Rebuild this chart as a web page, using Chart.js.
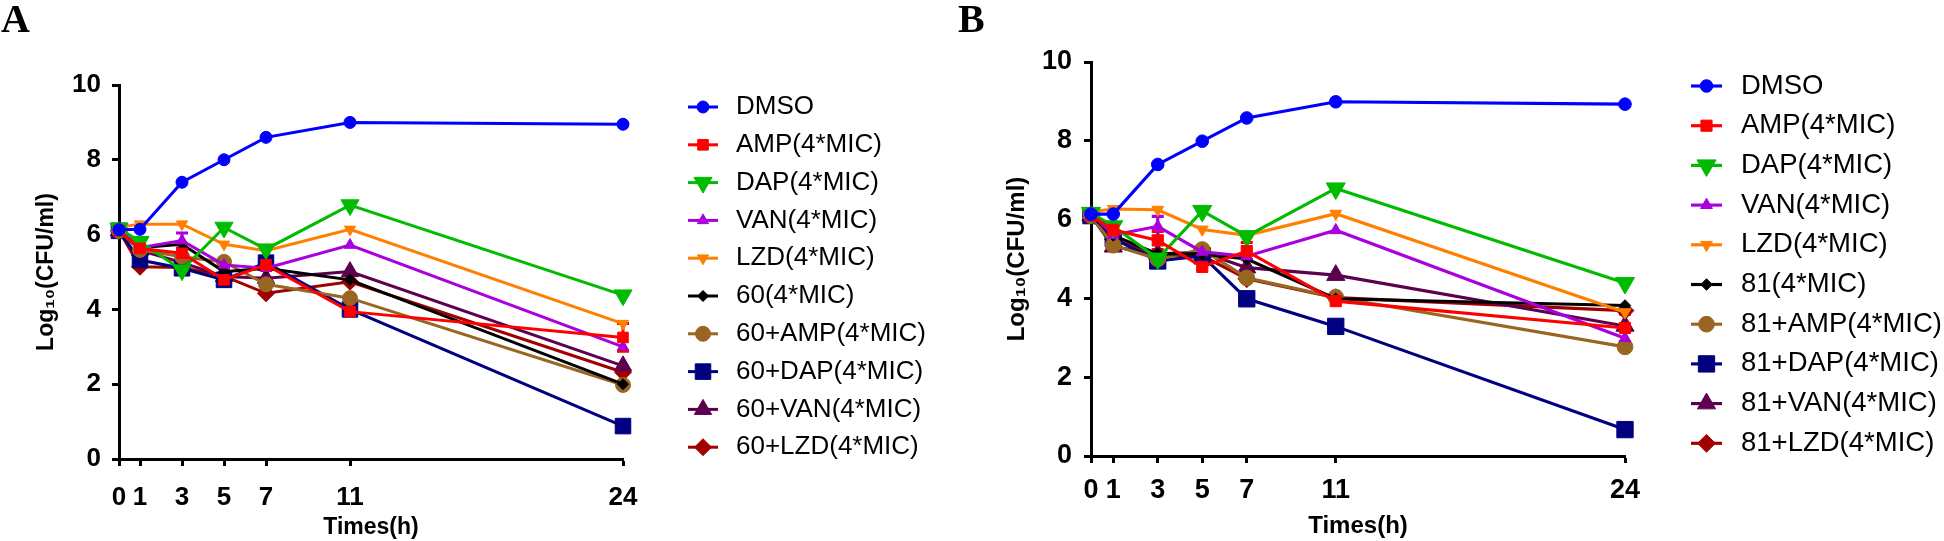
<!DOCTYPE html>
<html>
<head>
<meta charset="utf-8">
<script src="https://cdn.jsdelivr.net/npm/chart.js@4.4.1/dist/chart.umd.min.js"></script>
<style>
  body { margin: 0; background: #fff; width: 1944px; height: 541px; overflow: hidden; position: relative; }
  .panel { position: absolute; top: 0; height: 541px; }
  #wrapA { left: 0; width: 980px; }
  #wrapB { left: 980px; width: 964px; }
  .letter { position: absolute; font-family: "Liberation Serif", "Times New Roman", serif; font-weight: bold; font-size: 40px; line-height: 1; color: #000; }
</style>
</head>
<body>
<div class="panel" id="wrapA"><canvas id="chartA" width="980" height="541"></canvas></div>
<div class="panel" id="wrapB"><canvas id="chartB" width="964" height="541"></canvas></div>
<div class="letter" style="left:1px;top:-1px">A</div>
<div class="letter" style="left:958px;top:-1px">B</div>
<script>
const times = [0, 1, 3, 5, 7, 11, 24];
const timeTicks = [0, 1, 3, 5, 7, 11, 24];
const yTicks = [0, 2, 4, 6, 8, 10];

const labelsA = ['DMSO', 'AMP(4*MIC)', 'DAP(4*MIC)', 'VAN(4*MIC)', 'LZD(4*MIC)',
  '60(4*MIC)', '60+AMP(4*MIC)', '60+DAP(4*MIC)', '60+VAN(4*MIC)', '60+LZD(4*MIC)'];
const labelsB = ['DMSO', 'AMP(4*MIC)', 'DAP(4*MIC)', 'VAN(4*MIC)', 'LZD(4*MIC)',
  '81(4*MIC)', '81+AMP(4*MIC)', '81+DAP(4*MIC)', '81+VAN(4*MIC)', '81+LZD(4*MIC)'];

// panel A, log10 CFU/ml
const dmsoA   = [6.13, 6.14, 7.40, 8.00, 8.60, 9.00, 8.95];
const ampA    = [6.10, 5.63, 5.50, 4.79, 5.19, 3.94, 3.25];
const dapA    = [6.17, 5.81, 5.05, 6.19, 5.61, 6.79, 4.38];
const vanA    = [6.15, 5.65, 5.84, 5.19, 5.10, 5.72, 3.00];
const lzdA    = [6.20, 6.28, 6.28, 5.74, 5.57, 6.14, 3.62];
const c60A    = [6.10, 5.65, 5.74, 5.01, 5.10, 4.79, 2.00];
const c60AmpA = [6.10, 5.59, 5.41, 5.27, 4.67, 4.30, 1.98];
const c60DapA = [6.10, 5.32, 5.10, 4.79, 5.25, 4.00, 0.88];
const c60VanA = [6.10, 5.58, 5.25, 4.88, 4.83, 5.01, 2.49];
const c60LzdA = [6.10, 5.14, 5.12, 4.89, 4.43, 4.74, 2.32];
const ampErrA = [0, 0.15, 0.25, 0, 0.12, 0, 0.37];
const vanErrA = [0, 0, 0.20, 0.10, 0, 0, 0];

// panel B
const dmsoB   = [6.14, 6.14, 7.40, 7.99, 8.58, 8.99, 8.93];
const ampB    = [6.10, 5.74, 5.47, 4.80, 5.20, 3.93, 3.25];
const dapB    = [6.17, 5.83, 5.01, 6.22, 5.58, 6.79, 4.39];
const vanB    = [6.15, 5.61, 5.83, 5.18, 5.07, 5.73, 2.99];
const lzdB    = [6.20, 6.27, 6.25, 5.75, 5.60, 6.15, 3.65];
const c81B    = [6.10, 5.60, 5.13, 5.13, 5.00, 3.99, 3.82];
const c81AmpB = [6.10, 5.35, 5.00, 5.24, 4.52, 4.03, 2.77];
const c81DapB = [6.10, 5.52, 4.95, 5.08, 3.99, 3.29, 0.67];
const c81VanB = [6.10, 5.31, 5.13, 5.17, 4.78, 4.59, 3.30];
const c81LzdB = [6.10, 5.50, 5.08, 5.08, 4.50, 4.02, 3.69];
const ampErrB = [0, 0.15, 0.23, 0, 0.22, 0, 0.35];
const vanErrB = [0, 0, 0.25, 0, 0, 0, 0];

const seriesStyles = [
  { color: '#0000ff', style: 'circle', rot: 0, r: 6 },
  { color: '#ff0000', style: 'rect', rot: 0, r: 7.5 },
  { color: '#00bb00', style: 'triangle', rot: 180, r: 10.5 },
  { color: '#aa00dd', style: 'triangle', rot: 0, r: 6.5 },
  { color: '#ff8000', style: 'triangle', rot: 180, r: 6.5 },
  { color: '#000000', style: 'rectRot', rot: 0, r: 5.5 },
  { color: '#996622', style: 'circle', rot: 0, r: 7.5 },
  { color: '#000080', style: 'rect', rot: 0, r: 11 },
  { color: '#5c004f', style: 'triangle', rot: 0, r: 10 },
  { color: '#a00000', style: 'rectRot', rot: 0, r: 8.5 }
];

function buildDatasets(labels, values, errors, k) {
  return values.map((vals, i) => {
    const s = seriesStyles[i];
    return {
      label: labels[i],
      data: times.map((t, j) => ({ x: t, y: vals[j] })),
      errors: errors[i] || null,
      borderColor: s.color,
      backgroundColor: s.color,
      pointBackgroundColor: s.color,
      pointBorderColor: s.color,
      pointStyle: s.style,
      pointRotation: s.rot,
      pointRadius: s.r * k,
      pointBorderWidth: 1,
      borderWidth: 3 * k,
      tension: 0,
      clip: false
    };
  });
}

const sideLegend = {
  id: 'sideLegend',
  afterDraw(chart, args, opts) {
    const ctx = chart.ctx;
    ctx.save();
    chart.data.datasets.forEach((ds, i) => {
      const y = opts.top + i * opts.step;
      ctx.strokeStyle = ds.borderColor;
      ctx.lineWidth = ds.borderWidth;
      ctx.beginPath();
      ctx.moveTo(opts.x1, y);
      ctx.lineTo(opts.x2, y);
      ctx.stroke();
      ctx.fillStyle = ds.pointBackgroundColor;
      ctx.lineWidth = 1;
      Chart.helpers.drawPoint(ctx, {
        pointStyle: ds.pointStyle, rotation: ds.pointRotation,
        radius: ds.pointRadius, borderWidth: 1
      }, (opts.x1 + opts.x2) / 2, y);
      ctx.fillStyle = '#000';
      ctx.font = opts.fontSize + 'px "Liberation Sans", Arial, sans-serif';
      ctx.textBaseline = 'middle';
      ctx.textAlign = 'left';
      ctx.fillText(ds.label, opts.tx, y);
    });
    ctx.restore();
  }
};

const errorBars = {
  id: 'errorBars',
  beforeDatasetsDraw(chart) {
    const ctx = chart.ctx;
    const yScale = chart.scales.y;
    chart.data.datasets.forEach((ds, i) => {
      if (!ds.errors) return;
      const meta = chart.getDatasetMeta(i);
      ctx.save();
      ctx.strokeStyle = ds.borderColor;
      ctx.lineWidth = ds.borderWidth;
      meta.data.forEach((pt, j) => {
        const e = ds.errors[j];
        if (!e) return;
        const v = ds.data[j].y;
        const top = yScale.getPixelForValue(v + e);
        const bot = yScale.getPixelForValue(v - e);
        ctx.beginPath();
        ctx.moveTo(pt.x, top); ctx.lineTo(pt.x, bot);
        ctx.moveTo(pt.x - 6, top); ctx.lineTo(pt.x + 6, top);
        ctx.moveTo(pt.x - 6, bot); ctx.lineTo(pt.x + 6, bot);
        ctx.stroke();
      });
      ctx.restore();
    });
  }
};

const fontFamily = '"Liberation Sans", Arial, sans-serif';

function makeOptions(cfg) {
  const tickFont = { family: fontFamily, size: cfg.tickSize, weight: 'bold' };
  const titleFont = { family: fontFamily, size: cfg.titleSize, weight: 'bold' };
  return {
    responsive: false,
    animation: false,
    events: [],
    layout: { padding: { left: 0, top: cfg.top, right: cfg.right, bottom: 0 } },
    plugins: {
      legend: { display: false },
      tooltip: { enabled: false },
      sideLegend: cfg.legend
    },
    scales: {
      x: {
        type: 'linear', min: 0, max: 24,
        afterBuildTicks: s => { s.ticks = timeTicks.map(v => ({ value: v })); },
        afterFit: s => { s.height = cfg.xH; },
        grid: { drawOnChartArea: false, drawTicks: true, tickLength: 7, tickWidth: 3, tickColor: '#000' },
        border: { color: '#000', width: 3 },
        ticks: { color: '#000', font: tickFont, padding: cfg.xPad, autoSkip: false, maxRotation: 0 },
        title: { display: true, text: 'Times(h)', color: '#000', font: titleFont, padding: { top: 0, bottom: 0 } }
      },
      y: {
        type: 'linear', min: 0, max: 10,
        afterBuildTicks: s => { s.ticks = yTicks.map(v => ({ value: v })); },
        afterFit: s => { s.width = cfg.yW; },
        grid: { drawOnChartArea: false, drawTicks: true, tickLength: 7, tickWidth: 3, tickColor: '#000' },
        border: { color: '#000', width: 3 },
        ticks: { color: '#000', font: tickFont, padding: cfg.yPad },
        title: { display: true, text: 'Log₁₀(CFU/ml)', color: '#000', font: titleFont, padding: { top: cfg.yTitlePad, bottom: 0 } }
      }
    }
  };
}

new Chart(document.getElementById('chartA'), {
  type: 'line',
  data: {
    datasets: buildDatasets(labelsA,
      [dmsoA, ampA, dapA, vanA, lzdA, c60A, c60AmpA, c60DapA, c60VanA, c60LzdA],
      [null, ampErrA, null, vanErrA], 1)
  },
  options: makeOptions({
    top: 85, right: 357, xH: 82, yW: 119, xPad: 16, yPad: 11, yTitlePad: 33,
    tickSize: 26, titleSize: 23,
    legend: { top: 107, step: 37.8, x1: 688, x2: 718, tx: 736, fontSize: 26 }
  }),
  plugins: [errorBars, sideLegend]
});

new Chart(document.getElementById('chartB'), {
  type: 'line',
  data: {
    datasets: buildDatasets(labelsB,
      [dmsoB, ampB, dapB, vanB, lzdB, c81B, c81AmpB, c81DapB, c81VanB, c81LzdB],
      [null, ampErrB, null, vanErrB], 1.05)
  },
  options: makeOptions({
    top: 62, right: 319, xH: 85, yW: 111, xPad: 11, yPad: 12, yTitlePad: 23,
    tickSize: 27, titleSize: 24,
    legend: { top: 86, step: 39.7, x1: 711, x2: 742, tx: 761, fontSize: 27.5 }
  }),
  plugins: [errorBars, sideLegend]
});
</script>
</body>
</html>
